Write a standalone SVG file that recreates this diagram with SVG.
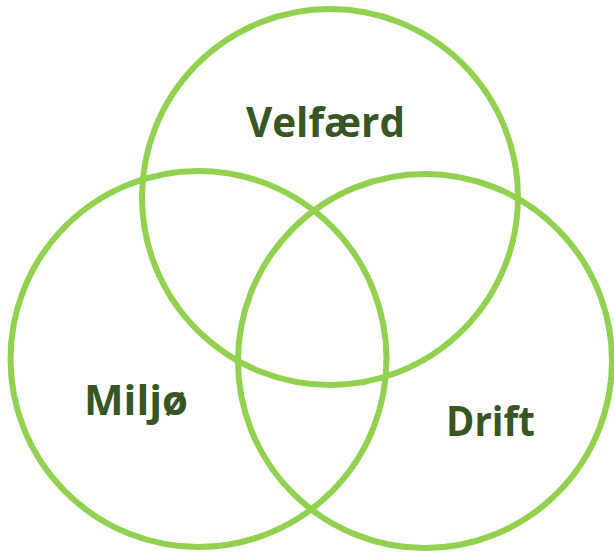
<svg xmlns="http://www.w3.org/2000/svg" width="614" height="555" viewBox="0 0 614 555">
<style>
.c{fill:none;stroke:#92D050;stroke-width:6}
.t{font-family:"Open Sans","Liberation Sans",sans-serif;font-weight:bold;font-size:42px;fill:#375623}
</style>
<rect width="614" height="555" fill="#fff"/>
<g id="velfaerd"><circle class="c" cx="330" cy="197" r="188"/><text class="t" x="246" y="137" textLength="159" lengthAdjust="spacingAndGlyphs">Velfærd</text></g>
<g id="miljo"><circle class="c" cx="198.5" cy="359" r="188"/><text class="t" x="84" y="415" textLength="104" lengthAdjust="spacingAndGlyphs">Miljø</text></g>
<g id="drift"><circle class="c" cx="425" cy="361" r="187"/><text class="t" x="446" y="436" textLength="89" lengthAdjust="spacingAndGlyphs">Drift</text></g>
<g id="connectors"/>
</svg>
